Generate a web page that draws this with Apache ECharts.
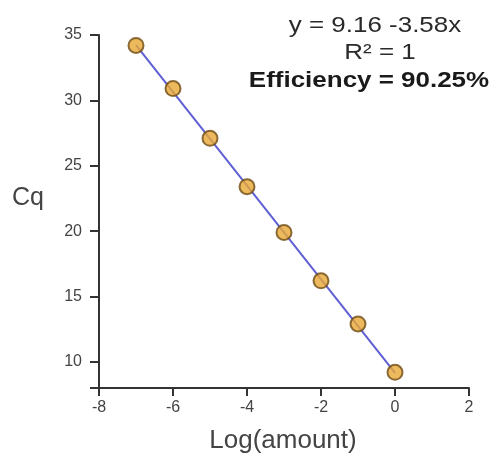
<!DOCTYPE html>
<html>
<head>
<meta charset="utf-8">
<script src="https://cdn.jsdelivr.net/npm/echarts@6/dist/echarts.min.js"></script>
<style>
  html, body { margin: 0; padding: 0; background: #fff; }
  #chart { width: 503px; height: 457px; }
</style>
</head>
<body>
<div id="chart"></div>
<script>
// Standard curve: log(amount) vs. quantification cycle
const logAmount = [-7, -6, -5, -4, -3, -2, -1, 0];
const cqValues = [34.2, 30.9, 27.1, 23.4, 19.9, 16.2, 12.9, 9.2];

// Regression line end points (y = 9.16 - 3.58x)
const fitX = [-7, 0];
const fitY = [34.22, 9.16];

const xTicks = [-8, -6, -4, -2, 0, 2];
const yTicks = [10, 15, 20, 25, 30, 35];
// extra tick at the axis floor so the x axis runs slightly past the y axis
const yTickMarks = [8, 10, 15, 20, 25, 30, 35];

const equationText = 'y = 9.16 -3.58x';
const r2Text = 'R² = 1';
const efficiencyText = 'Efficiency = 90.25%';

const FONT = '"Liberation Sans", Arial, sans-serif';
const AXIS_COLOR = '#333';
const WIDE = 1.18; // horizontal stretch of the annotation text

const chart = echarts.init(document.getElementById('chart'), null, { renderer: 'canvas' });

function note(text, x, y, weight, color) {
  return {
    type: 'text', x, y, scaleX: WIDE, originX: 0, originY: 0,
    style: { text, font: weight + ' 22px ' + FONT, fill: color, align: 'center', verticalAlign: 'middle' }
  };
}

chart.setOption({
  animation: false,
  backgroundColor: '#fff',
  grid: { left: 99, right: 34, top: 35, bottom: 69, containLabel: false },
  xAxis: {
    type: 'value',
    min: -8, max: 2, interval: 2,
    axisLine: { show: true, onZero: false, lineStyle: { color: AXIS_COLOR, width: 2 } },
    axisTick: { show: true, length: 8, lineStyle: { color: AXIS_COLOR, width: 2 } },
    splitLine: { show: false },
    axisLabel: { color: '#444', fontFamily: FONT, fontSize: 16, margin: 12,
      formatter: v => xTicks.includes(v) ? String(v) : '' }
  },
  yAxis: {
    type: 'value',
    min: 8, max: 35,
    axisLine: { show: true, onZero: false, lineStyle: { color: AXIS_COLOR, width: 2 } },
    axisTick: { show: true, length: 9, customValues: yTickMarks,
      lineStyle: { color: AXIS_COLOR, width: 2 } },
    splitLine: { show: false },
    axisLabel: { color: '#444', fontFamily: FONT, fontSize: 16, margin: 17,
      customValues: yTicks }
  },
  series: [
    {
      type: 'line',
      data: fitX.map((x, i) => [x, fitY[i]]),
      symbol: 'none',
      lineStyle: { color: '#5f5fd4', width: 2 },
      z: 2
    },
    {
      type: 'scatter',
      data: logAmount.map((x, i) => [x, cqValues[i]]),
      symbol: 'circle',
      symbolSize: 15,
      itemStyle: { color: '#e9a734', borderColor: '#6e4b14', borderWidth: 2 },
      z: 3
    }
  ],
  graphic: [
    { type: 'text', left: 12, top: 186, style: { text: 'Cq', font: '25px ' + FONT, fill: '#444' } },
    { type: 'text', x: 283, y: 441, style: { text: 'Log(amount)', font: '26px ' + FONT, fill: '#444', align: 'center', verticalAlign: 'middle' } },
    note(equationText, 375, 26, 'normal', '#2a2a2a'),
    note(r2Text, 380, 53, 'normal', '#2a2a2a'),
    note(efficiencyText, 369, 81, 'bold', '#1a1a1a')
  ]
});
</script>
</body>
</html>
